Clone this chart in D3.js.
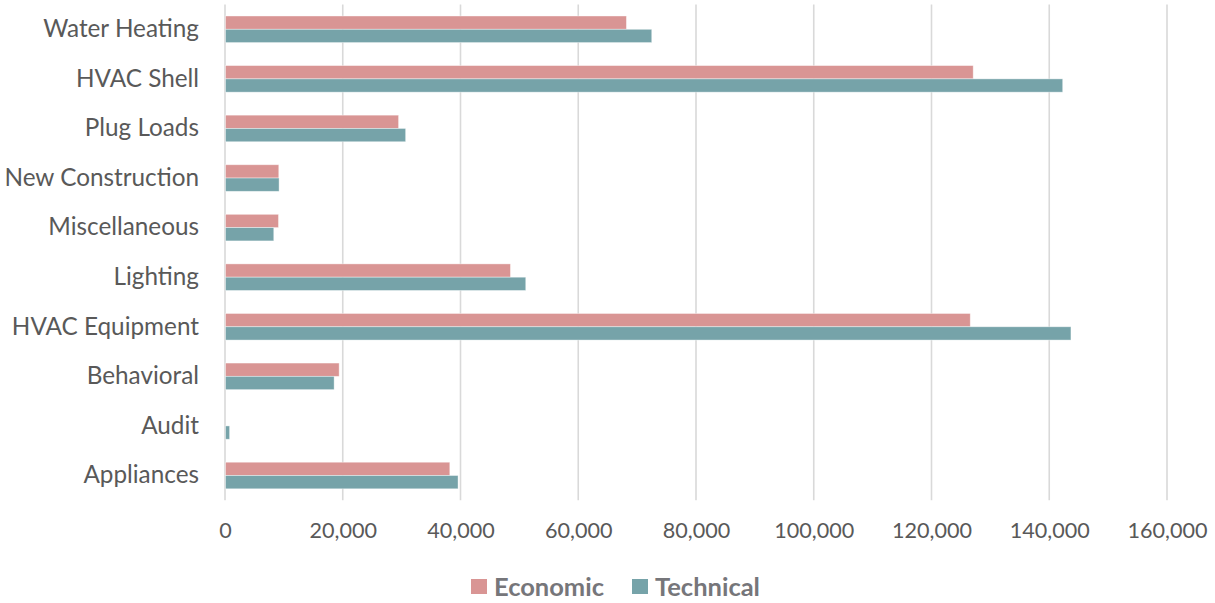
<!DOCTYPE html>
<html>
<head>
<meta charset="utf-8">
<script src="https://cdn.jsdelivr.net/npm/d3@7"></script>
<style>
  html, body { margin: 0; padding: 0; background: #fff; }
  svg { display: block; font-family: Lato, "Open Sans", sans-serif; }
</style>
</head>
<body>
<svg id="chart" width="1215" height="603"></svg>
<script>
// Savings potential by end use
const categories = ["Appliances", "Audit", "Behavioral", "HVAC Equipment", "Lighting",
                    "Miscellaneous", "New Construction", "Plug Loads", "HVAC Shell", "Water Heating"];
const economic  = [38100, 0, 19300, 126500, 48400, 9000, 9050, 29400, 127000, 68100];
const technical = [39500, 700, 18450, 143600, 51000, 8200, 9100, 30600, 142200, 72400];
const seriesNames = ["Economic", "Technical"];
const seriesColors = ["#D99594", "#76A3A9"];
const xTicks = [0, 20000, 40000, 60000, 80000, 100000, 120000, 140000, 160000];

const svg = d3.select("#chart");
const margin = { left: 225, right: 48, top: 4.5, bottom: 102.7 };
const W = 1215, H = 603;

const x = d3.scaleLinear().domain([0, 160000]).range([margin.left, W - margin.right]);
// first category sits at the bottom
const y = d3.scaleBand().domain(categories.slice().reverse())
  .range([margin.top, H - margin.bottom]).paddingInner(0).paddingOuter(0);
const ySub = d3.scaleBand().domain(seriesNames).range([0, y.bandwidth()])
  .paddingInner(0).paddingOuter(0.864);

// vertical gridlines
svg.append("g").selectAll("line").data(xTicks).join("line")
  .attr("x1", d => x(d)).attr("x2", d => x(d))
  .attr("y1", margin.top).attr("y2", H - margin.bottom)
  .attr("stroke", "#D9D9D9").attr("stroke-width", 1.6);

// bars
const rows = categories.map((c, i) => ({ c, vals: [economic[i], technical[i]] }));
const grp = svg.append("g").selectAll("g").data(rows).join("g")
  .attr("transform", d => `translate(0,${y(d.c)})`);
grp.selectAll("rect").data(d => d.vals.map((v, j) => ({ v, s: seriesNames[j], j })))
  .join("rect")
  .attr("x", x(0) + 0.5)
  .attr("y", d => ySub(d.s))
  .attr("width", d => Math.max(0, x(d.v) - x(0)))
  .attr("height", ySub.bandwidth())
  .attr("fill", d => seriesColors[d.j])
  .attr("stroke", "#fff").attr("stroke-opacity", 0.5).attr("stroke-width", 0.8);

// category labels
const yAxis = d3.axisLeft(y).tickSize(0).tickPadding(26);
svg.append("g").attr("transform", `translate(${margin.left},0)`).call(yAxis)
  .call(g => g.select(".domain").remove())
  .selectAll("text")
  .attr("font-family", "Lato, 'Open Sans', sans-serif")
  .attr("font-size", 24.3).attr("fill", "#595959");

// value axis labels
const xAxis = d3.axisBottom(x).tickValues(xTicks).tickFormat(d3.format(",")).tickSize(0).tickPadding(22);
svg.append("g").attr("transform", `translate(0,${H - margin.bottom})`).call(xAxis)
  .call(g => g.select(".domain").remove())
  .selectAll("text")
  .attr("font-family", "Lato, 'Open Sans', sans-serif")
  .attr("font-size", 21.6).attr("fill", "#595959");

// legend
const legendX = [471, 632];
const legend = svg.append("g").selectAll("g").data(seriesNames).join("g")
  .attr("transform", (d, i) => `translate(${legendX[i]},579)`);
legend.append("rect").attr("width", 16).attr("height", 15)
  .attr("fill", (d, i) => seriesColors[i]);
legend.append("text").attr("x", 23).attr("y", 7.5).attr("dy", "0.36em")
  .attr("font-size", 25.5).attr("font-weight", "bold").attr("fill", "#76767A")
  .text(d => d);
</script>
</body>
</html>
